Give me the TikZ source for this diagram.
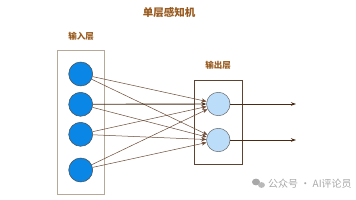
\documentclass[tikz,border=0pt]{standalone}
\usepackage{fontspec}
\newfontfamily\cjk{Noto Sans CJK SC}
\usetikzlibrary{arrows.meta}
\definecolor{titlec}{HTML}{985A1E}
\definecolor{edgec}{HTML}{6B4A35}
\definecolor{darkedge}{HTML}{4A2A12}
\definecolor{inbox}{HTML}{B8A898}
\definecolor{outbox}{HTML}{5E4430}
\definecolor{infill}{HTML}{0A86E6}
\definecolor{outfill}{HTML}{BCDDFA}
\definecolor{wm}{HTML}{A8A8A8}
\tikzset{
  layerlabel/.style={font=\cjk\bfseries\fontsize{8.5}{9}\selectfont, text=titlec, inner sep=0pt},
  inneuron/.style={circle, draw=black!70, fill=infill, minimum size=24pt, inner sep=0pt, line width=0.5pt},
  outneuron/.style={circle, draw=black!60, fill=outfill, minimum size=23.5pt, inner sep=0pt, line width=0.5pt},
  conn/.style={draw=edgec, line width=0.5pt, -{Stealth[length=5pt,width=4pt]}},
  strongconn/.style={draw=darkedge, line width=0.9pt, -{Stealth[length=5pt,width=4pt]}},
  outarrow/.style={draw=darkedge, line width=0.8pt, -{Stealth[length=5pt,width=3.5pt]}},
}
\begin{document}
\begin{tikzpicture}[x=1pt,y=-1pt]
\useasboundingbox (0,0) rectangle (356,200);
\node[font=\cjk\bfseries\fontsize{10.5}{11}\selectfont, text=titlec, inner sep=0pt] (title) at (169,12.5) {单层感知机};
\node[layerlabel] (inlabel) at (81,36) {输入层};
\node[layerlabel] (outlabel) at (218,65.5) {输出层};
\node[draw=inbox, line width=0.6pt, minimum width=47.4pt, minimum height=144pt, inner sep=0pt] (inbox) at (81,122) {};
\node[draw=outbox, line width=0.6pt, minimum width=48pt, minimum height=84pt, inner sep=0pt] (outbox) at (218.3,122.3) {};
\node[inneuron] (i1) at (80.7,74) {};
\node[inneuron] (i2) at (80.7,104.3) {};
\node[inneuron] (i3) at (80.7,134.3) {};
\node[inneuron] (i4) at (80.7,170) {};
\node[outneuron] (o1) at (218.3,104) {};
\node[outneuron] (o2) at (218.3,140) {};
\coordinate (y1) at (296,104);
\coordinate (y2) at (296,140);
\draw[conn] (i1) -- (o1);
\draw[conn] (i1) -- (o2);
\draw[strongconn] (i2) -- (o1);
\draw[conn] (i2) -- (o2);
\draw[conn] (i3) -- (o1);
\draw[conn] (i3) -- (o2);
\draw[conn] (i4) -- (o1);
\draw[conn] (i4) -- (o2);
\draw[outarrow] (o1) -- (y1);
\draw[outarrow] (o2) -- (y2);
% watermark
\fill[wm] (256,182) ellipse (4pt and 3.4pt);
\fill[wm!80] (261.5,185) ellipse (3.4pt and 2.9pt);
\node[font=\cjk\fontsize{10}{11}\selectfont, text=wm, anchor=west, inner sep=0pt] (wmtext) at (268,183.5) {公众号 · AI评论员};
\end{tikzpicture}
\end{document}
